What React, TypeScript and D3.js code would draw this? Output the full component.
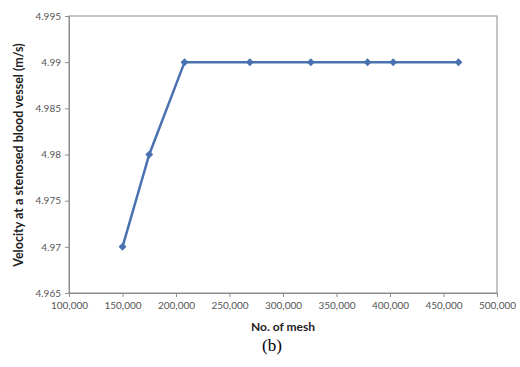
import React, { useRef, useEffect } from 'react';
import * as d3 from 'd3';

// mesh count vs velocity
const meshCounts = [150000, 175000, 208000, 269000, 326000, 379000, 403000, 464000];
const velocities = [4.97, 4.98, 4.99, 4.99, 4.99, 4.99, 4.99, 4.99];
const xTicks = [100000, 150000, 200000, 250000, 300000, 350000, 400000, 450000, 500000];
const yTicks = [4.965, 4.97, 4.975, 4.98, 4.985, 4.99, 4.995];

const width = 520;
const height = 367;

const App = () => {
  const ref = useRef<SVGSVGElement>(null);

  useEffect(() => {
    const svg = d3.select(ref.current);
    svg.selectAll('*').remove();

    const left = 69, right = 497, top = 16, bottom = 293;
    const x = d3.scaleLinear().domain([100000, 500000]).range([left, right]);
    const y = d3.scaleLinear().domain([4.965, 4.995]).range([bottom, top]);
    const font = 'Lato, "Open Sans", sans-serif';
    const axisColor = '#8c8c8c';

    // plot border
    svg.append('rect')
      .attr('x', left).attr('y', top)
      .attr('width', right - left).attr('height', bottom - top)
      .attr('fill', 'none').attr('stroke', axisColor).attr('stroke-width', 1);

    const xAxis = svg.append('g')
      .attr('transform', `translate(0,${bottom})`)
      .call(d3.axisBottom(x).tickValues(xTicks).tickSize(4).tickPadding(5)
        .tickFormat(d => d3.format(',')(d as number)));
    const yAxis = svg.append('g')
      .attr('transform', `translate(${left},0)`)
      .call(d3.axisLeft(y).tickValues(yTicks).tickSize(4).tickPadding(4)
        .tickFormat(d => d3.format('')(+(d as number).toFixed(3))));

    [xAxis, yAxis].forEach(g => {
      g.select('.domain').attr('stroke', axisColor);
      g.selectAll('.tick line').attr('stroke', axisColor);
      g.selectAll('.tick text')
        .attr('fill', '#555')
        .style('font-family', font)
        .style('font-size', '10px');
    });

    const line = d3.line<number>()
      .x((_, i) => x(meshCounts[i]))
      .y(d => y(d));

    svg.append('path')
      .datum(velocities)
      .attr('d', line)
      .attr('fill', 'none')
      .attr('stroke', '#4a72b0')
      .attr('stroke-width', 2.5);

    svg.selectAll('path.pt')
      .data(velocities)
      .enter().append('path')
      .attr('class', 'pt')
      .attr('d', d3.symbol().type(d3.symbolDiamond2).size(40))
      .attr('transform', (d, i) => `translate(${x(meshCounts[i])},${y(d)})`)
      .attr('fill', '#4a72b0');

    svg.append('text')
      .attr('x', (left + right) / 2).attr('y', 331)
      .attr('text-anchor', 'middle')
      .style('font-family', font).style('font-weight', 'bold').style('font-size', '12px')
      .attr('fill', '#222')
      .text('No. of mesh');

    svg.append('text')
      .attr('transform', `translate(23,155) rotate(-90)`)
      .attr('text-anchor', 'middle')
      .style('font-family', font).style('font-weight', 'bold').style('font-size', '12.5px')
      .attr('fill', '#222')
      .text('Velocity at a stenosed blood vessel (m/s)');

    svg.append('text')
      .attr('x', 272).attr('y', 351)
      .attr('text-anchor', 'middle')
      .style('font-family', '"Liberation Serif", serif').style('font-size', '17px')
      .attr('fill', '#000')
      .text('(b)');
  }, []);

  return <svg ref={ref} width={width} height={height} style={{ position: 'absolute', left: 0, top: 0, background: '#fff' }} />;
};

export default App;
